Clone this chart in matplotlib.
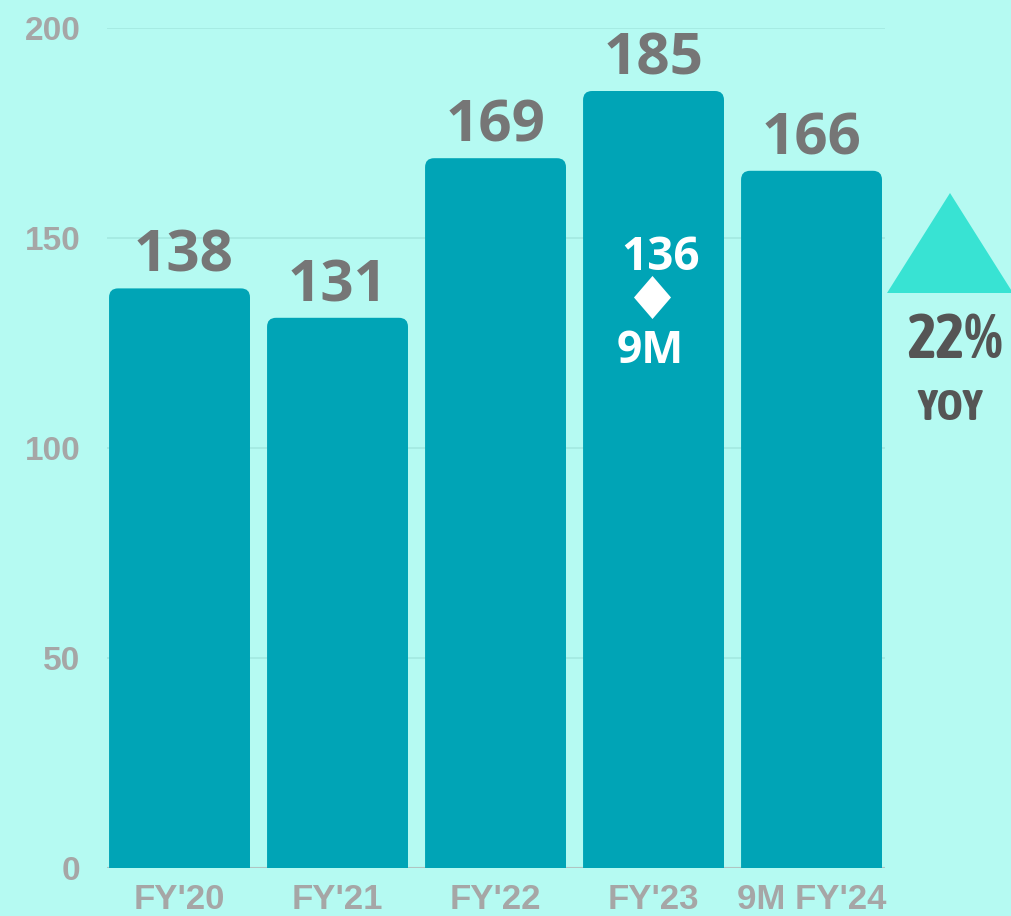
import matplotlib
matplotlib.use("Agg")
import matplotlib.pyplot as plt
from matplotlib.patches import FancyBboxPatch, Polygon
from matplotlib import font_manager

# data
categories = ["FY'20", "FY'21", "FY'22", "FY'23", "9M FY'24"]
revenue = [138, 131, 169, 185, 166]
nine_month_fy23 = 136
yoy_label = "22%"
y_ticks = [0, 50, 100, 150, 200]

BG = "#B5FAF2"
BAR = "#00A4B6"
VALUE_GRAY = "#767676"
TICK_GRAY = "#A6A6A6"
TRI = "#38E3D3"

# condensed bold face for the YoY badge if one is installed, else plain Liberation bold
cond = [f for f in font_manager.fontManager.ttflist
        if ("Narrow" in f.name or "Condensed" in f.name) and f.weight in ("bold", 700)]
if cond:
    yoy_font = font_manager.FontProperties(fname=cond[0].fname)
    yoy_sizes = (44, 32)
else:
    yoy_font = font_manager.FontProperties(family="Liberation Sans", weight="bold")
    yoy_sizes = (33, 26)

fig = plt.figure(figsize=(10.11, 9.16), dpi=100, facecolor=BG)
W, H = 1011, 916
ax = fig.add_axes([107 / W, 48 / H, (885 - 107) / W, (868 - 28) / H])
ax.set_facecolor(BG)

x = list(range(len(categories)))
bars = ax.bar(x, revenue, width=0.892, color=BAR, zorder=2)
ax.set_xlim(-0.459, 4.465)
ax.set_ylim(0, 200)

# rounded tops: swap the rectangles for fancy boxes, bottom corners hidden below 0
px_x = (885 - 107) / (4.465 + 0.459)
px_y = (868 - 28) / 200
r = 9 / px_x
aspect = px_x / px_y
for b in bars:
    b.set_visible(False)
    fb = FancyBboxPatch((b.get_x(), -6), b.get_width(), b.get_height() + 6,
                        boxstyle=f"round,pad=0,rounding_size={r}",
                        mutation_aspect=aspect, facecolor=BAR, edgecolor="none", zorder=2)
    ax.add_patch(fb)

# value labels
for xi, v in zip(x, revenue):
    ax.annotate(str(v), (xi, v), xytext=(3 if xi == 0 else 0, 12), textcoords="offset points",
                ha="center", va="baseline", fontsize=42, fontweight="bold",
                family="Open Sans", color=VALUE_GRAY, zorder=4)

# 9M FY'23 marker
i23 = categories.index("FY'23")
ax.plot([i23 - 0.01], [nine_month_fy23], marker=[(0, 1), (0.86, 0), (0, -1), (-0.86, 0)],
        markersize=31, color="white", markeredgewidth=0, zorder=4)
ax.annotate(str(nine_month_fy23), (i23, nine_month_fy23), xytext=(5, 19.5),
            textcoords="offset points", ha="center", va="baseline", fontsize=33,
            fontweight="bold", family="Open Sans", color="white", zorder=4)
ax.annotate("9M", (i23, nine_month_fy23), xytext=(-2, -48),
            textcoords="offset points", ha="center", va="baseline", fontsize=32,
            fontweight="bold", family="Open Sans", color="white", zorder=4)

# axes styling
ax.set_yticks(y_ticks)
ax.set_xticks(x)
ax.set_xticklabels(categories)
for s in ax.spines.values():
    s.set_visible(False)
ax.set_axisbelow(True)
ax.yaxis.grid(True, color="#A3E8E0", linewidth=1.2)
ax.axhline(0, color="#B0C4C2", linewidth=1.5, zorder=1.5)
ax.tick_params(axis="both", length=0, colors=TICK_GRAY)
ax.tick_params(axis="y", pad=19)
ax.tick_params(axis="x", pad=11)
for lab in ax.get_yticklabels():
    lab.set_fontfamily("Liberation Sans")
    lab.set_fontweight("bold")
    lab.set_fontsize(24)
for lab in ax.get_xticklabels():
    lab.set_fontfamily("Liberation Sans")
    lab.set_fontweight("bold")
    lab.set_fontsize(25)

# YoY arrow + text
tri = Polygon([(887 / W, 1 - 293 / H), (1013 / W, 1 - 293 / H), (950 / W, 1 - 193 / H)],
              closed=True, transform=fig.transFigure, facecolor=TRI, edgecolor="none")
fig.add_artist(tri)
fig.text(955 / W, 1 - 358 / H, yoy_label, ha="center", va="baseline", fontsize=yoy_sizes[0],
         fontproperties=yoy_font, color="#555555")
fig.text(950 / W, 1 - 420 / H, "YOY", ha="center", va="baseline", fontsize=yoy_sizes[1],
         fontproperties=yoy_font, color="#555555")

fig.savefig("out.png", dpi=100, facecolor=BG)
